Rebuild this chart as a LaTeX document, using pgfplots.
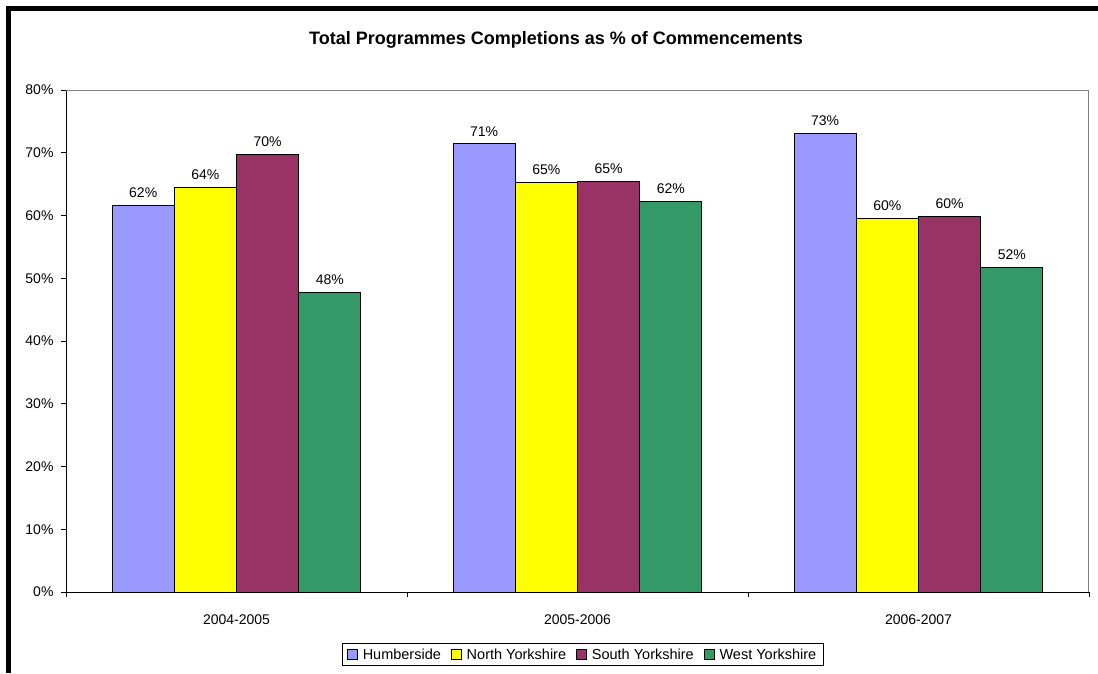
\documentclass[border=0pt]{standalone}
\usepackage{fontspec}
\setmainfont{Liberation Sans}
\usepackage{pgfplots}
\pgfplotsset{compat=1.18}
\definecolor{hum}{HTML}{9999FF}
\definecolor{nor}{HTML}{FFFF00}
\definecolor{sou}{HTML}{993366}
\definecolor{wes}{HTML}{339966}
\begin{document}
\begin{tikzpicture}
\path[use as bounding box] (0pt,0pt) rectangle (1098pt,-673pt);
\fill[black] (6pt,-6pt) rectangle (1098pt,-11pt);
\fill[black] (6pt,-6pt) rectangle (11pt,-673pt);
\begin{axis}[
  at={(66pt,-592pt)}, anchor=south west,
  scale only axis, width=1023pt, height=502pt,
  /pgf/number format/assume math mode=true,
  ybar=0pt, bar width=62.2pt,
  xmin=-0.5, xmax=2.5, ymin=0, ymax=80,
  axis x line*=bottom, axis y line*=left,
  axis line style={black, line width=0.9pt},
  xtick={0,1,2}, xticklabels={2004-2005,2005-2006,2006-2007},
  minor xtick={-0.5,0.5,1.5,2.5},
  ytick={0,10,...,80},
  yticklabels={0\%,10\%,20\%,30\%,40\%,50\%,60\%,70\%,80\%},
  tick align=outside,
  major tick length=5pt, minor tick length=5pt,
  major x tick style={draw=none},
  minor x tick style={black, line width=0.8pt},
  y tick style={black, line width=0.8pt},
  ticklabel style={font=\fontsize{14}{16}\selectfont},
  xticklabel style={yshift=-14pt},
  yticklabel style={xshift=-4pt},
  title={Total Programmes Completions as \% of Commencements},
  title style={at={(0.479,1.088)}, anchor=center, font=\bfseries\fontsize{18}{21}\selectfont},
  nodes near coords={\pgfmathprintnumber[fixed,precision=0]{\pgfplotspointmeta}\%},
  every node near coord/.append style={font=\fontsize{14}{16}\selectfont, black, anchor=south, yshift=4pt},
  legend columns=4,
  legend style={at={(0.505,-0.1245)}, anchor=center, draw=black, line width=0.8pt,
    font=\fontsize{14.5}{16}\selectfont, inner xsep=5pt, inner ysep=3pt,
    /tikz/every odd column/.append style={column sep=3pt},
    /tikz/every even column/.append style={column sep=8pt}},
  legend image code/.code={\draw[#1,draw=black,line width=0.8pt] (0pt,-5pt) rectangle (10pt,5pt);},
  every axis plot/.append style={draw=black, line width=1pt},
]
\addplot[fill=hum] coordinates {(0,61.6) (1,71.4) (2,73.1)};
\addplot[fill=nor] coordinates {(0,64.4) (1,65.3) (2,59.6)};
\addplot[fill=sou] coordinates {(0,69.7) (1,65.4) (2,59.8)};
\addplot[fill=wes] coordinates {(0,47.7) (1,62.2) (2,51.7)};
\legend{Humberside,North Yorkshire,South Yorkshire,West Yorkshire}
\draw[gray, line width=1pt] (rel axis cs:0,1) -- (rel axis cs:1,1) -- (rel axis cs:1,0);
\end{axis}
\end{tikzpicture}
\end{document}
